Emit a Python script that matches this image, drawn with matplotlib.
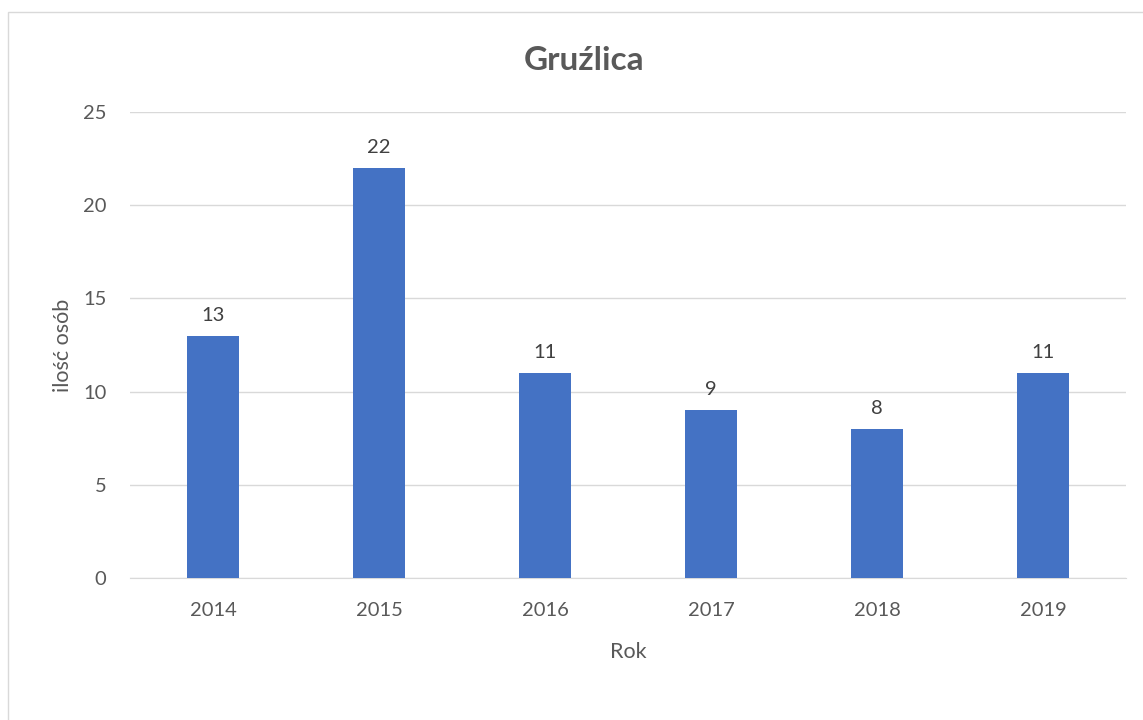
import matplotlib.pyplot as plt
from matplotlib.patches import Rectangle

plt.rcParams["font.family"] = ["Lato", "DejaVu Sans"]

years = ["2014", "2015", "2016", "2017", "2018", "2019"]
counts = [13, 22, 11, 9, 8, 11]

TXT = "#595959"

fig = plt.figure(figsize=(11.43, 7.2), dpi=100)
ax = fig.add_axes([130 / 1143, 1 - 578 / 720, 996 / 1143, 466 / 720])

x = range(len(years))
bars = ax.bar(x, counts, width=0.315, color="#4472C4", zorder=3)
for b, v in zip(bars, counts):
    ax.text(b.get_x() + b.get_width() / 2, v + 0.65, str(v),
            ha="center", va="bottom", fontsize=14.5, color="#404040")

ax.set_xlim(-0.5, len(years) - 0.5)
ax.set_ylim(0, 25)
ax.set_yticks(range(0, 26, 5))
ax.set_xticks(list(x))
ax.set_xticklabels(years)
ax.grid(axis="y", color="#D9D9D9", linewidth=1, zorder=0)
for s in ["top", "right", "left"]:
    ax.spines[s].set_visible(False)
ax.spines["bottom"].set_color("#D9D9D9")
ax.tick_params(length=0, labelsize=14.5, colors=TXT)
ax.tick_params(axis="x", pad=17)
ax.tick_params(axis="y", pad=17)

ax.set_xlabel("Rok", fontsize=15.5, color=TXT, labelpad=17)
ax.set_ylabel("ilość osób", fontsize=15.5, color=TXT, labelpad=7)
fig.text(584 / 1143, 1 - 60 / 720, "Gruźlica", ha="center", va="center",
         fontsize=24, fontweight="bold", color=TXT)

fig.patches.append(Rectangle((8 / 1143, -0.1), 1.2, 1 - 12 / 720 + 0.1,
                             transform=fig.transFigure, fill=False,
                             edgecolor="#D9D9D9", linewidth=1))

fig.savefig("out.png", dpi=100)
